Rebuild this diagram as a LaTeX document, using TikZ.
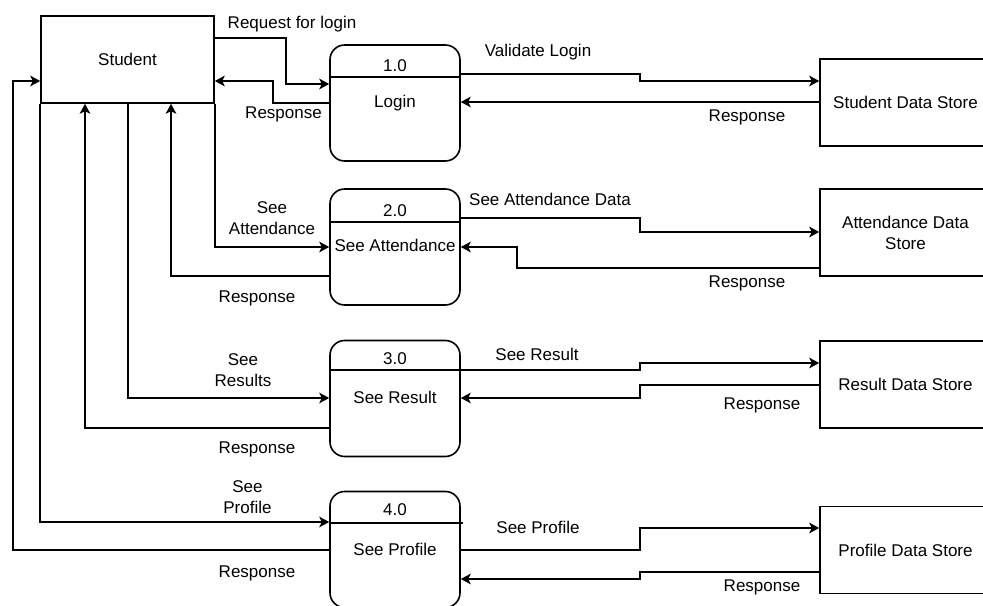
\documentclass[tikz,border=0pt]{standalone}
\usepackage{fontspec}
\setmainfont{Liberation Sans}
\usetikzlibrary{arrows.meta}
\newcommand\dfdfont{\fontsize{12.75pt}{15.75pt}\selectfont}
\begin{document}
\begin{tikzpicture}[x=0.75pt,y=-0.75pt,
  line width=1.2pt,
  every node/.style={font=\dfdfont, inner sep=0pt},
  entity/.style={draw, rectangle, minimum width=129.75pt, minimum height=65.25pt},
  store/.style={draw, rectangle, minimum width=128.25pt, minimum height=65.25pt, align=center},
  proc/.style={draw, rectangle, rounded corners=11pt, minimum width=97.5pt, minimum height=87pt},
  lbl/.style={anchor=base},
  lbltwo/.style={align=center},
  flow/.style={-{Stealth[length=7.5pt,width=8pt,inset=2pt]}},
]
\useasboundingbox (0,0) rectangle (983,606);

% external entity
\node[entity] (student) at (127.5,59.5) {Student};

% processes
\node[proc] (proc1) at (395,103) {};
\node[proc] (proc2) at (395,247) {};
\node[proc] (proc3) at (395,398.5) {};
\node[proc] (proc4) at (395,549.5) {};
\draw (proc1.west |- 0,77) -- (proc1.east |- 0,77);
\draw (proc2.west |- 0,222) -- (proc2.east |- 0,222);
\draw (proc3.west |- 0,370) -- (proc3.east |- 0,370);
\draw (proc4.west |- 0,523) -- ([xshift=1.5pt]proc4.east |- 0,523);

\node[lbl] (num1) at (395,72) {1.0};
\node[lbl] (txt1) at (395,108) {Login};
\node[lbl] (num2) at (395,217) {2.0};
\node[lbl] (txt2) at (395,252) {See Attendance};
\node[lbl] (num3) at (395,364) {3.0};
\node[lbl] (txt3) at (395,403.5) {See Result};
\node[lbl] (num4) at (395,515) {4.0};
\node[lbl] (txt4) at (395,555) {See Profile};

% data stores
\node[store] (store1) at (905.5,102.5) {Student Data Store};
\node[store] (store2) at (905.5,232.5) {Attendance Data\\Store};
\node[store] (store3) at (905.5,384.5) {Result Data Store};
\node[store] (store4) at (905.5,550) {Profile Data Store};

% student <-> login
\draw[flow] (student.east |- 0,38) -| (286,84) -- (proc1.west |- 0,84);
\draw[flow] (proc1.west |- 0,103) -| (273,81) -- (student.east |- 0,81);
% login <-> student data store
\draw[flow] (proc1.east |- 0,74) -- (640,74) |- (store1.west |- 0,81);
\draw[flow] (store1.west |- 0,102) -- (proc1.east |- 0,102);

% student <-> see attendance
\draw[flow] (student.south east) |- (proc2.west |- 0,247);
\draw[flow] (proc2.west |- 0,276) -| (student.south -| 171,0);
% see attendance <-> attendance data store
\draw[flow] (proc2.east |- 0,218) -- (640,218) |- (store2.west |- 0,232);
\draw[flow] (store2.west |- 0,268) -| (517,247) -- (proc2.east |- 0,247);

% student <-> see result
\draw[flow] (student.south -| 128,0) |- (proc3.west |- 0,398);
\draw[flow] (proc3.west |- 0,428) -| (student.south -| 85,0);
% see result <-> result data store
\draw[flow] (proc3.east |- 0,370) -- (640,370) |- (store3.west |- 0,363);
\draw[flow] (store3.west |- 0,385) -- (640,385) |- (proc3.east |- 0,398);

% student <-> see profile
\draw[flow] (student.south west) |- (proc4.west |- 0,522);
\draw[flow] (proc4.west |- 0,550) -| (13,81) -- (student.west |- 0,81);
% see profile <-> profile data store
\draw[flow] (proc4.east |- 0,550) -- (640,550) |- (store4.west |- 0,528);
\draw[flow] (store4.west |- 0,572) -- (640,572) |- (proc4.east |- 0,579);

% flow labels
\node[lbl] (lReq) at (292,29) {Request for login};
\node[lbl] (lResp1) at (283.5,119) {Response};
\node[lbl] (lVal) at (538,57) {Validate Login};
\node[lbl] (lResp1s) at (747,122) {Response};
\node[lbltwo] (lSeeAtt) at (272,218) {See\\Attendance};
\node[lbl] (lResp2) at (257,303) {Response};
\node[lbl] (lAttData) at (550,206) {See Attendance Data};
\node[lbl] (lResp2s) at (747,288) {Response};
\node[lbltwo] (lSeeRes) at (243,370) {See\\Results};
\node[lbl] (lResp3) at (257,453) {Response};
\node[lbl] (lRes) at (537,360) {See Result};
\node[lbl] (lResp3s) at (762,410) {Response};
\node[lbltwo] (lSeeProf) at (247.5,497) {See\\Profile};
\node[lbl] (lResp4) at (257,577) {Response};
\node[lbl] (lProf) at (538,533) {See Profile};
\node[lbl] (lResp4s) at (762,591) {Response};
\end{tikzpicture}
\end{document}
